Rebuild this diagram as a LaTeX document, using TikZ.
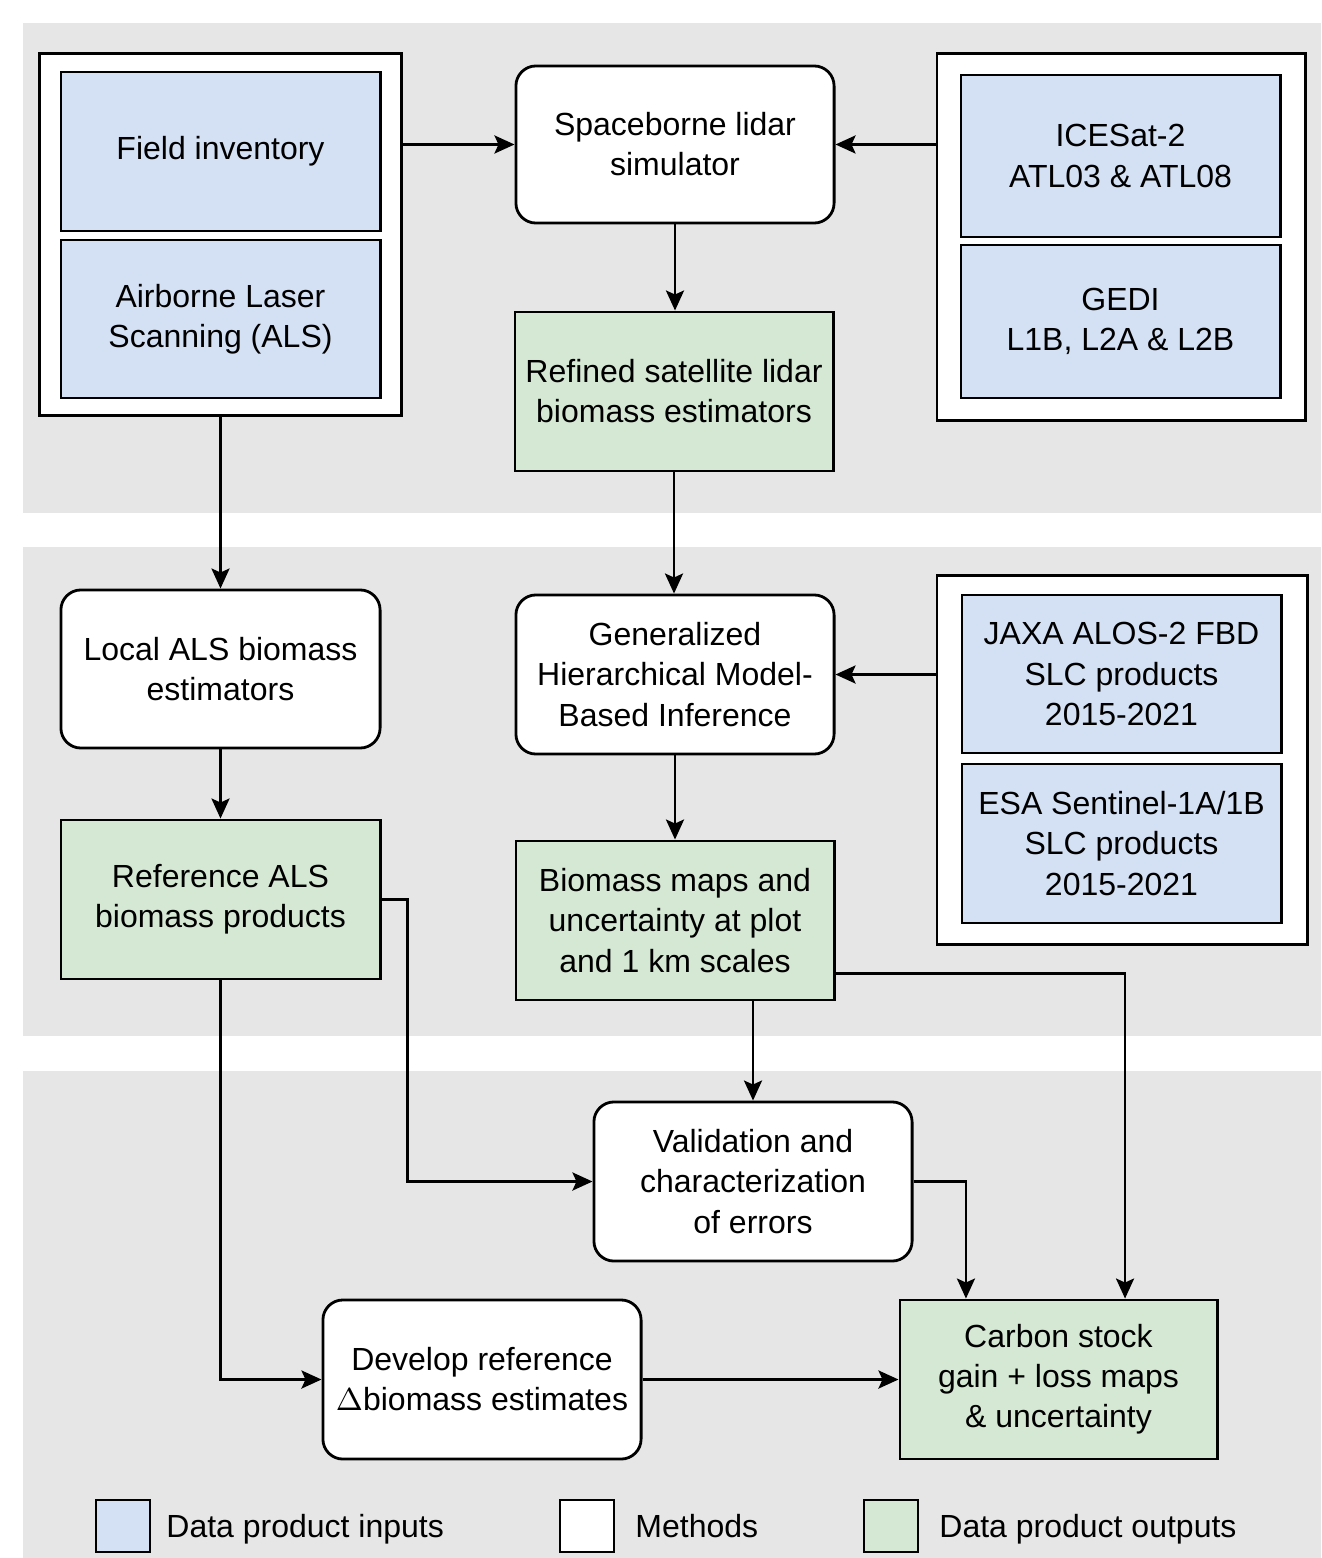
\documentclass[tikz,border=0pt]{standalone}
\usepackage{fontspec}
\setmainfont{Liberation Sans}
\usetikzlibrary{arrows.meta}

\begin{document}
\begin{tikzpicture}[x=0.01cm,y=-0.01cm,line width=0.8pt,
  every node/.style={font=\fontsize{9.1}{11.4}\selectfont,align=center,inner sep=0pt},
  band/.style={fill={rgb,255:red,230;green,230;blue,230}},
  grp/.style={draw,fill=white},
  inbox/.style={draw,fill={rgb,255:red,212;green,225;blue,244},minimum width=3.19cm,minimum height=1.59cm},
  outbox/.style={draw,fill={rgb,255:red,213;green,232;blue,212},minimum width=3.18cm,minimum height=1.59cm},
  method/.style={draw,fill=white,rounded corners=0.2cm,minimum width=3.18cm,minimum height=1.58cm},
  key/.style={draw,minimum width=0.54cm,minimum height=0.52cm},
  arr/.style={-{Stealth[length=0.2cm,width=0.18cm,inset=0.04cm]}}]
\useasboundingbox (0,0) rectangle (1321,1558);
\fill[band] (23,23) rectangle (1321,513);
\fill[band] (23,547) rectangle (1321,1036);
\fill[band] (23,1071) rectangle (1321,1558);
% inputs
\node[grp,minimum width=3.61cm,minimum height=3.61cm] (grpA) at (220.5,234.5) {};
\node[inbox] (field) at (220.5,151.5) {Field inventory};
\node[inbox,minimum height=1.58cm] (als) at (220.5,319) {Airborne Laser\\Scanning (ALS)};
\node[grp,minimum width=3.68cm,minimum height=3.66cm] (grpB) at (1121,237) {};
\node[inbox,minimum height=1.62cm] (ices) at (1120.5,156) {ICESat-2\\ATL03 \& ATL08};
\node[inbox,minimum height=1.53cm] (gedi) at (1120.5,321.5) {GEDI\\L1B, L2A \& L2B};
\node[grp,minimum width=3.70cm,minimum height=3.68cm] (grpC) at (1122,760) {};
\node[inbox,minimum height=1.58cm] (jaxa) at (1121.5,674) {JAXA ALOS-2 FBD\\SLC products\\2015-2021};
\node[inbox] (esa) at (1121.5,843.5) {ESA Sentinel-1A/1B\\SLC products\\2015-2021};
% methods and outputs
\node[method,minimum height=1.57cm] (sim) at (675,144.5) {Spaceborne lidar\\simulator};
\node[outbox] (refined) at (674,391.5) {Refined satellite lidar\\biomass estimators};
\node[method,minimum width=3.19cm] (local) at (220.5,669) {Local ALS biomass\\estimators};
\node[method,minimum height=1.59cm] (gen) at (675,674.5) {Generalized\\Hierarchical Model-\\Based Inference};
\node[outbox,minimum width=3.19cm] (ref) at (220.5,899.5) {Reference ALS\\biomass products};
\node[outbox] (maps) at (675,920.5) {Biomass maps and\\uncertainty at plot\\and 1 km scales};
\node[method,minimum height=1.59cm] (valid) at (753,1181.5) {Validation and\\characterization\\of errors};
\node[method,minimum height=1.59cm] (dev) at (482,1379.5) {Develop reference\\$\Delta$biomass estimates};
\node[outbox,minimum width=3.17cm] (carbon) at (1058.5,1379.5) {Carbon stock\\gain + loss maps\\\& uncertainty};
% connectors
\draw[arr] (grpA.east |- sim.west) -- (sim.west);
\draw[arr] (grpB.west |- sim.east) -- (sim.east);
\draw[arr] (sim.south) -- (refined.north -| sim.south);
\draw[arr] (grpA.south) -- (local.north);
\draw[arr] (refined.south) -- (gen.north -| refined.south);
\draw[arr] (grpC.west |- gen.east) -- (gen.east);
\draw[arr] (local.south) -- (ref.north);
\draw[arr] (gen.south) -- (maps.north);
\draw[arr] (ref.east) -- ++(26,0) |- (valid.west);
\draw[arr] (valid.north |- maps.south) -- (valid.north);
\draw[arr] ([yshift=0.28cm]maps.south east) -| ([xshift=0.665cm]carbon.north);
\draw[arr] (valid.east) -| ([xshift=-0.925cm]carbon.north);
\draw[arr] (ref.south) |- (dev.west);
\draw[arr] (dev.east) -- (carbon.west);
% legend
\node[key,fill={rgb,255:red,212;green,225;blue,244}] (keyin) at (123,1526) {};
\node[anchor=base west] (txtin) at (165,1537) {Data product inputs};
\node[key,fill=white] (keymeth) at (587,1526) {};
\node[anchor=base west] (txtmeth) at (634,1537) {Methods};
\node[key,fill={rgb,255:red,213;green,232;blue,212}] (keyout) at (891,1526) {};
\node[anchor=base west] (txtout) at (938,1537) {Data product outputs};
\end{tikzpicture}
\end{document}
